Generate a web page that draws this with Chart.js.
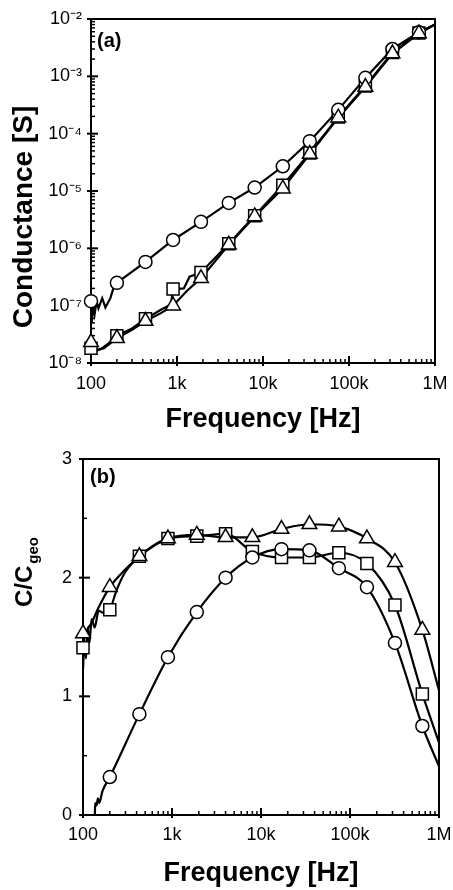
<!DOCTYPE html>
<html>
<head>
<meta charset="utf-8">
<script src="https://cdn.jsdelivr.net/npm/chart.js@4/dist/chart.umd.min.js"></script>
<style>
  html, body { margin: 0; padding: 0; background: #fff; }
  .panel { position: absolute; left: 0; width: 453px; height: 445px; }
  #panelA { top: 0; }
  #panelB { top: 445px; }
</style>
</head>
<body>
<div class="panel" id="panelA"><canvas id="condChart"></canvas></div>
<div class="panel" id="panelB"><canvas id="capChart"></canvas></div>
<script>
// ---- axis ticks ----
const freqTicks = [100, 1000, 10000, 100000, 1000000];
const freqTickLabels = ["100", "1k", "10k", "100k", "1M"];
const condTicks = [1e-8, 1e-7, 1e-6, 1e-5, 1e-4, 1e-3, 1e-2];
const condTickLabels = ["10\u207B\u2078", "10\u207B\u2077", "10\u207B\u2076", "10\u207B\u2075", "10\u207B\u2074", "10\u207B\u00B3", "10\u207B\u00B2"];
const capTicks = [0, 1, 2, 3];
const capMinorTicks = [0.5, 1.5, 2.5];

// ---- (a) conductance, marker points ----
const markFreq = [100, 200, 430, 900, 1900, 4000, 8000, 17000, 35000, 75000, 155000, 320000, 650000];
const condCircle = [1.2e-7, 2.5e-7, 5.8e-7, 1.4e-6, 2.9e-6, 6.2e-6, 1.15e-5, 2.7e-5, 7.4e-5, 2.6e-4, 9.4e-4, 3.0e-3, 5.9e-3];
const condSquare = [1.8e-8, 3.0e-8, 5.9e-8, 1.95e-7, 3.8e-7, 1.2e-6, 3.7e-6, 1.26e-5, 4.6e-5, 1.95e-4, 6.8e-4, 2.6e-3, 5.7e-3];
const condTriangle = [2.3e-8, 2.7e-8, 5.4e-8, 1.0e-7, 3.0e-7, 1.15e-6, 3.6e-6, 1.1e-5, 4.4e-5, 1.9e-4, 6.5e-4, 2.5e-3, 5.6e-3];

// ---- (a) conductance, measured traces ----
const traceCircleAF = [100, 102, 105, 110, 116, 122, 135, 147, 168, 182, 200, 430, 900, 1900, 4000, 8000, 17000, 35000, 75000, 155000, 320000, 650000, 1000000];
const traceCircleAG = [1.2e-7, 5e-8, 1.0e-7, 7e-8, 1.2e-7, 9e-8, 1.35e-7, 9.3e-8, 1.35e-7, 2.0e-7, 2.5e-7, 5.8e-7, 1.4e-6, 2.9e-6, 6.2e-6, 1.15e-5, 2.7e-5, 7.4e-5, 2.6e-4, 9.4e-4, 3.0e-3, 5.9e-3, 8.0e-3];
const traceSquareAF = [100, 105, 112, 130, 160, 200, 300, 430, 650, 850, 900, 1200, 1400, 1900, 4000, 8000, 17000, 35000, 75000, 155000, 320000, 650000, 1000000];
const traceSquareAG = [2.2e-8, 1.7e-8, 1.6e-8, 1.75e-8, 2.2e-8, 3.0e-8, 4.0e-8, 5.9e-8, 8.5e-8, 1.05e-7, 1.95e-7, 2.0e-7, 3.2e-7, 3.8e-7, 1.2e-6, 3.7e-6, 1.26e-5, 4.6e-5, 1.95e-4, 6.8e-4, 2.6e-3, 5.7e-3, 8.0e-3];
const traceTriangleAF = [100, 106, 115, 140, 200, 300, 430, 650, 900, 1300, 1900, 4000, 8000, 17000, 35000, 75000, 155000, 320000, 650000, 1000000];
const traceTriangleAG = [2.3e-8, 1.65e-8, 1.7e-8, 1.8e-8, 2.7e-8, 3.8e-8, 5.4e-8, 7.4e-8, 1.0e-7, 1.8e-7, 3.0e-7, 1.15e-6, 3.6e-6, 1.1e-5, 4.4e-5, 1.9e-4, 6.5e-4, 2.5e-3, 5.6e-3, 8.0e-3];

// ---- (b) C/Cgeo, marker points ----
const capTriangle = [1.53, 1.92, 2.18, 2.33, 2.36, 2.34, 2.34, 2.41, 2.45, 2.43, 2.33, 2.13, 1.56];
const capSquare = [1.41, 1.73, 2.18, 2.33, 2.35, 2.37, 2.22, 2.17, 2.17, 2.21, 2.12, 1.77, 1.02];
const circleFreqB = [200, 430, 900, 1900, 4000, 8000, 17000, 35000, 75000, 155000, 320000, 650000];
const capCircle = [0.32, 0.85, 1.33, 1.71, 2.0, 2.17, 2.24, 2.23, 2.08, 1.92, 1.45, 0.75];

// ---- (b) C/Cgeo, measured traces ----
const traceTriangleBF = [100, 110, 125, 150, 200, 300, 430, 900, 1900, 4000, 8000, 17000, 35000, 75000, 155000, 320000, 650000, 1000000];
const traceTriangleBC = [1.45, 1.55, 1.62, 1.75, 1.92, 2.07, 2.18, 2.33, 2.36, 2.34, 2.34, 2.41, 2.45, 2.43, 2.33, 2.13, 1.56, 1.05];
const traceSquareBF = [100, 104, 108, 113, 118, 125, 135, 150, 175, 200, 240, 300, 430, 900, 1900, 4000, 8000, 17000, 35000, 75000, 155000, 320000, 650000, 1000000];
const traceSquareBC = [1.22, 1.48, 1.32, 1.58, 1.45, 1.65, 1.58, 1.72, 1.70, 1.73, 1.9, 2.05, 2.18, 2.33, 2.35, 2.37, 2.22, 2.17, 2.17, 2.21, 2.12, 1.77, 1.02, 0.61];
const traceCircleBF = [136, 137, 142, 147, 152, 165, 200, 430, 900, 1900, 4000, 8000, 17000, 35000, 75000, 155000, 320000, 650000, 1000000];
const traceCircleBC = [0.0, 0.1, 0.08, 0.14, 0.1, 0.2, 0.32, 0.85, 1.33, 1.71, 2.0, 2.17, 2.24, 2.23, 2.08, 1.92, 1.45, 0.75, 0.41];

const FONT = '"Liberation Sans", Arial, Helvetica, sans-serif';

function pts(xs, ys) {
    return xs.map((x, i) => ({ x: x, y: ys[i] }));
}

function minorLog(lo, hi) {
    let out = [];
    for (let d = lo; d < hi; d *= 10) {
        for (let k = 2; k <= 9; k++) out.push(d * k);
    }
    return out;
}

function traceSet(xs, ys, smooth) {
    return {
        data: pts(xs, ys),
        showLine: true,
        borderColor: '#000',
        borderWidth: 2.2,
        pointRadius: 0,
        cubicInterpolationMode: smooth ? 'monotone' : 'default',
        tension: 0,
        order: 2
    };
}

function markerSet(xs, ys, style, r) {
    return {
        data: pts(xs, ys),
        showLine: false,
        pointStyle: style,
        pointRadius: r,
        pointBorderWidth: 1.5,
        pointBorderColor: '#000',
        pointBackgroundColor: '#fff',
        clip: false,
        order: 1
    };
}

// frame, inward minor ticks and crossing major ticks
const framePlugin = {
    id: 'frameTicks',
    beforeDatasetsDraw(chart, args, opts) {
        const ctx = chart.ctx, a = chart.chartArea;
        const xs = chart.scales.x, ys = chart.scales.y;
        function seg(x1, y1, x2, y2) {
            ctx.beginPath(); ctx.moveTo(x1, y1); ctx.lineTo(x2, y2); ctx.stroke();
        }
        ctx.save();
        ctx.strokeStyle = '#000';
        ctx.lineWidth = 1.5;
        opts.xMinor.forEach(v => { let p = xs.getPixelForValue(v); seg(p, a.bottom, p, a.bottom - 4); });
        opts.yMinor.forEach(v => { let p = ys.getPixelForValue(v); seg(a.left, p, a.left + 4, p); });
        ctx.lineWidth = 2;
        opts.xMajor.forEach(v => { let p = xs.getPixelForValue(v); seg(p, a.bottom + 3, p, a.bottom - 7); });
        opts.yMajor.forEach(v => { let p = ys.getPixelForValue(v); seg(a.left - 4, p, a.left + 7, p); });
        ctx.lineWidth = 2;
        ctx.strokeRect(a.left, a.top, a.right - a.left, a.bottom - a.top);
        ctx.restore();
    },
    afterDraw(chart, args, opts) {
        const ctx = chart.ctx, a = chart.chartArea;
        ctx.save();
        ctx.fillStyle = '#000';
        ctx.font = 'bold 20px ' + FONT;
        ctx.textAlign = 'left';
        ctx.textBaseline = 'middle';
        ctx.fillText(opts.panel, a.left + opts.panelDx, a.top + opts.panelDy);
        // y axis title, rotated
        ctx.translate(opts.titleX, opts.titleY);
        ctx.rotate(-Math.PI / 2);
        ctx.font = 'bold ' + opts.titleSize + 'px ' + FONT;
        ctx.textBaseline = 'alphabetic';
        if (opts.titleSub) {
            ctx.textAlign = 'left';
            ctx.fillText(opts.title, 0, 0);
            let w = ctx.measureText(opts.title).width;
            ctx.font = 'bold 15px ' + FONT;
            ctx.fillText(opts.titleSub, w + 2, 6);
        } else {
            ctx.textAlign = 'center';
            ctx.fillText(opts.title, 0, 0);
        }
        ctx.restore();
    }
};

function freqAxis(height, pad, titlePad) {
    return {
        type: 'logarithmic',
        min: 100,
        max: 1000000,
        grid: { display: false, drawTicks: false },
        border: { display: false },
        afterBuildTicks: s => { s.ticks = freqTicks.map(v => ({ value: v })); },
        afterFit: s => { s.height = height; s.paddingLeft = 0; s.paddingRight = 0; },
        ticks: {
            color: '#000',
            font: { family: FONT, size: 18 },
            padding: pad,
            maxRotation: 0,
            callback: (v, i) => freqTickLabels[i]
        },
        title: {
            display: true,
            text: 'Frequency [Hz]',
            color: '#000',
            font: { family: FONT, size: 27, weight: 'bold' },
            padding: { top: 0, bottom: titlePad }
        }
    };
}

Chart.register(framePlugin);

// marker sets listed first are drawn on top: triangles, then circles, then squares
new Chart(document.getElementById('condChart'), {
    type: 'scatter',
    data: {
        datasets: [
            markerSet(markFreq, condTriangle, 'triangle', 8.5),
            markerSet(markFreq, condCircle, 'circle', 6.5),
            markerSet(markFreq, condSquare, 'rect', 8.5),
            traceSet(traceCircleAF, traceCircleAG, false),
            traceSet(traceSquareAF, traceSquareAG, false),
            traceSet(traceTriangleAF, traceTriangleAG, false)
        ]
    },
    options: {
        responsive: true,
        maintainAspectRatio: false,
        animation: false,
        layout: { padding: { top: 19, right: 18, left: 0, bottom: 0 } },
        plugins: {
            legend: { display: false },
            tooltip: { enabled: false },
            frameTicks: {
                xMajor: freqTicks, xMinor: minorLog(100, 1e6),
                yMajor: condTicks, yMinor: minorLog(1e-8, 1e-2),
                panel: '(a)', panelDx: 6, panelDy: 22,
                title: 'Conductance [S]', titleSize: 28, titleX: 32, titleY: 217
            }
        },
        scales: {
            x: freqAxis(82, 10, 9),
            y: {
                type: 'logarithmic',
                min: 1e-8,
                max: 1e-2,
                grid: { display: false, drawTicks: false },
                border: { display: false },
                afterBuildTicks: s => { s.ticks = condTicks.map(v => ({ value: v })); },
                afterFit: s => { s.width = 91; s.paddingTop = 0; s.paddingBottom = 0; },
                ticks: {
                    color: '#000',
                    font: { family: FONT, size: 18 },
                    padding: 9,
                    callback: (v, i) => condTickLabels[i]
                }
            }
        }
    }
});

new Chart(document.getElementById('capChart'), {
    type: 'scatter',
    data: {
        datasets: [
            markerSet(markFreq, capTriangle, 'triangle', 8.5),
            markerSet(circleFreqB, capCircle, 'circle', 6.5),
            markerSet(markFreq, capSquare, 'rect', 8.5),
            traceSet(traceCircleBF, traceCircleBC, true),
            traceSet(traceSquareBF, traceSquareBC, true),
            traceSet(traceTriangleBF, traceTriangleBC, true)
        ]
    },
    options: {
        responsive: true,
        maintainAspectRatio: false,
        animation: false,
        layout: { padding: { top: 14, right: 14, left: 0, bottom: 0 } },
        plugins: {
            legend: { display: false },
            tooltip: { enabled: false },
            frameTicks: {
                xMajor: freqTicks, xMinor: minorLog(100, 1e6),
                yMajor: capTicks, yMinor: capMinorTicks,
                panel: '(b)', panelDx: 7, panelDy: 18,
                title: 'C/C', titleSub: 'geo', titleSize: 24, titleX: 32, titleY: 162
            }
        },
        scales: {
            x: freqAxis(75, 9, 0),
            y: {
                type: 'linear',
                min: 0,
                max: 3,
                grid: { display: false, drawTicks: false },
                border: { display: false },
                afterBuildTicks: s => { s.ticks = capTicks.map(v => ({ value: v })); },
                afterFit: s => { s.width = 83; s.paddingTop = 0; s.paddingBottom = 0; },
                ticks: {
                    color: '#000',
                    font: { family: FONT, size: 18 },
                    padding: 11,
                    callback: v => String(v)
                }
            }
        }
    }
});
</script>
</body>
</html>
